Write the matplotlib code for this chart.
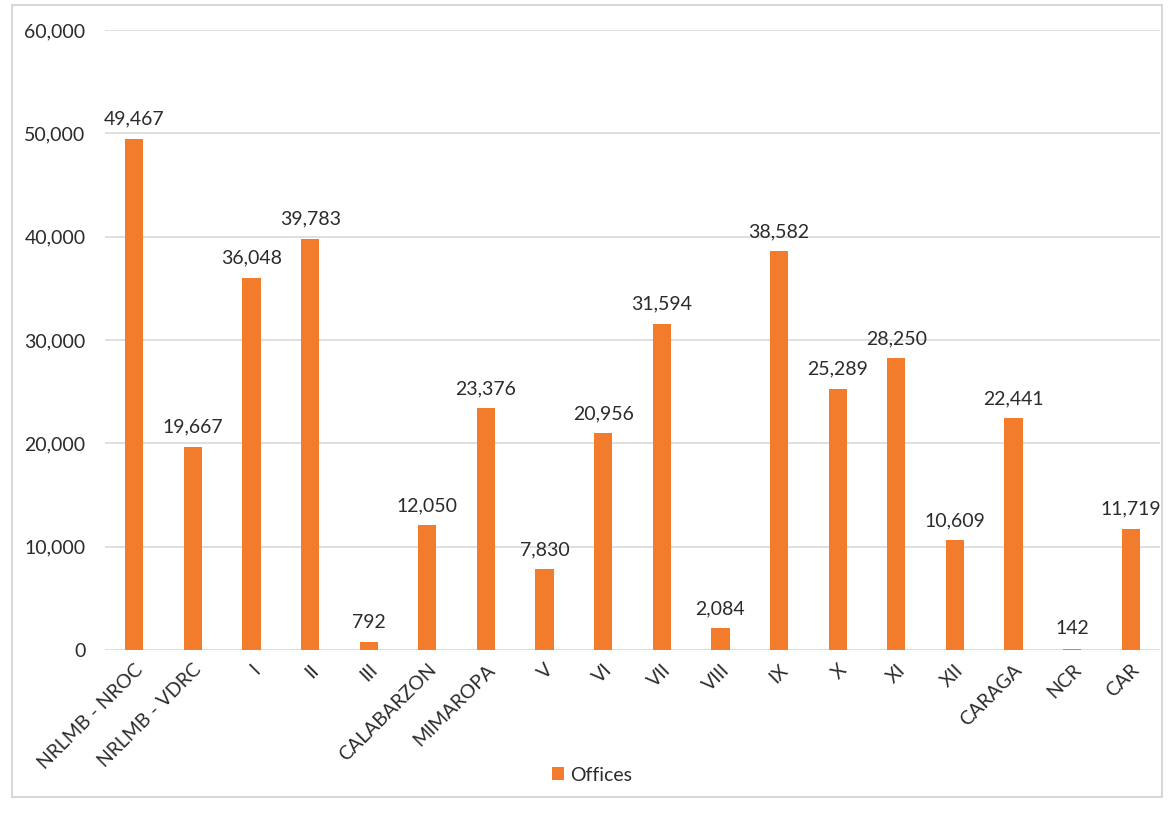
import matplotlib
matplotlib.use("Agg")
import matplotlib.pyplot as plt
from matplotlib.patches import Rectangle

categories = ["NRLMB - NROC", "NRLMB - VDRC", "I", "II", "III", "CALABARZON",
              "MIMAROPA", "V", "VI", "VII", "VIII", "IX", "X", "XI", "XII",
              "CARAGA", "NCR", "CAR"]
offices = [49467, 19667, 36048, 39783, 792, 12050, 23376, 7830, 20956, 31594,
           2084, 38582, 25289, 28250, 10609, 22441, 142, 11719]
y_ticks = [0, 10000, 20000, 30000, 40000, 50000, 60000]
series_name = "Offices"

plt.rcParams['font.family'] = ['Lato', 'DejaVu Sans']
text_color = '#2b2b2b'
bar_color = '#F27C2C'

fig = plt.figure(figsize=(11.74, 8.21), dpi=100)
ax = fig.add_axes([105/1174, 171/821, 1055/1174, 620/821])

x = list(range(len(categories)))
bars = ax.bar(x, offices, width=0.31, color=bar_color, label=series_name, zorder=3)
for xi, v in zip(x, offices):
    ax.annotate(f"{v:,}", (xi, v), xytext=(0, 8), textcoords='offset points',
                ha='center', va='bottom', fontsize=14, color=text_color)

ax.set_xlim(-0.5, len(categories) - 0.5)
ax.set_ylim(0, 60000)
ax.set_yticks(y_ticks)
ax.set_yticklabels([f"{t:,}" for t in y_ticks], fontsize=14, color=text_color)
ax.set_xticks(x)
ax.set_xticklabels(categories, rotation=45, ha='right', rotation_mode='anchor',
                   fontsize=14, color=text_color)
ax.tick_params(axis='y', length=0, pad=14)
ax.tick_params(axis='x', length=0, pad=8)
ax.yaxis.grid(True, color='#d9d9d9', linewidth=1.2, zorder=0)
ax.set_axisbelow(True)
for s in ax.spines.values():
    s.set_visible(False)

leg = fig.legend(handles=[bars], labels=[series_name], loc='center',
                 bbox_to_anchor=(592/1174, 1 - 775/821), frameon=False,
                 fontsize=14, handlelength=0.6, handleheight=0.6, handletextpad=0.3)
for t in leg.get_texts():
    t.set_color(text_color)

fig.patches.append(Rectangle((12/1174, 1 - 797/821), (1162-12)/1174, (797-5)/821,
                             transform=fig.transFigure, fill=False,
                             edgecolor='#d0d0d0', linewidth=1.2))

fig.savefig("out.png", dpi=100, facecolor='white')
